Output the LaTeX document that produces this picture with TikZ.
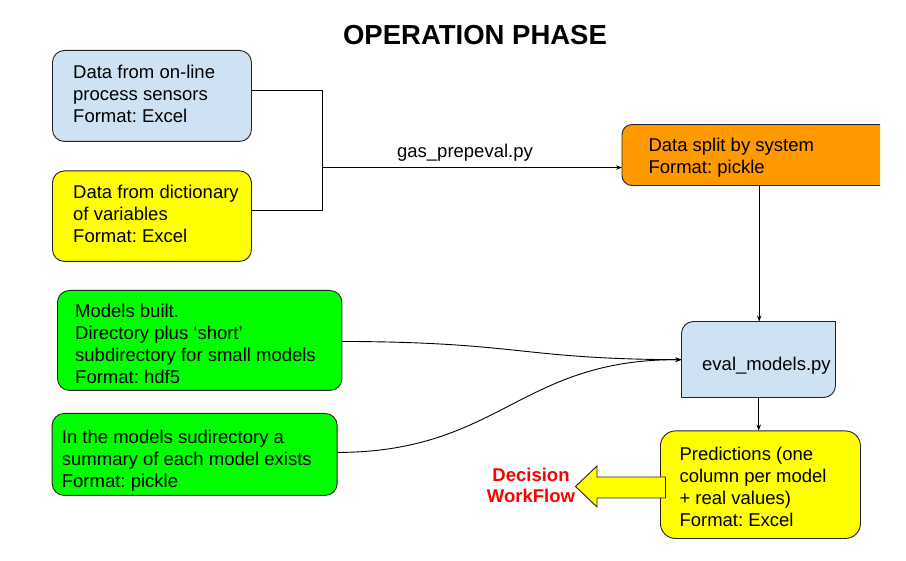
\documentclass[tikz,border=0pt]{standalone}
\usepackage{fontspec}
\setmainfont{Liberation Sans}
\usetikzlibrary{arrows.meta}
\frenchspacing
\definecolor{boxblue}{HTML}{CFE2F3}
\definecolor{boxyellow}{HTML}{FFFF00}
\definecolor{boxorange}{HTML}{FF9900}
\definecolor{boxgreen}{HTML}{00FF00}
\definecolor{wfred}{HTML}{FF0000}
\definecolor{edge}{HTML}{222222}
\begin{document}
\begin{tikzpicture}[x=1pt,y=-1pt,
  box/.style={draw=edge, line width=0.9pt, rounded corners=12pt, inner sep=0pt, anchor=north west},
  ghost/.style={inner sep=0pt, anchor=north west},
  txt/.style={anchor=west, align=left, inner sep=0pt, font=\frenchspacing\fontsize{18.5}{22}\selectfont},
  conn/.style={draw=black, line width=0.9pt},
  arr/.style={conn, -{Stealth[length=6pt,width=4.5pt]}}]
\useasboundingbox (0,0) rectangle (906,561);

% title
\node[font=\bfseries\fontsize{27.5}{30}\selectfont, inner sep=0pt] (title) at (475,35) {OPERATION PHASE};

% left input boxes
\node[box, fill=boxblue, minimum width=199pt, minimum height=91pt] (blue) at (52,50) {};
\node[txt] (blueT) at (73,93.5) {Data from on-line\\process sensors\\Format: Excel};

\node[box, fill=boxyellow, minimum width=199pt, minimum height=90.5pt] (yel) at (52,170.5) {};
\node[txt] (yelT) at (73,213.5) {Data from dictionary\\of variables\\Format: Excel};

\node[box, fill=boxgreen, minimum width=284.5pt, minimum height=100pt] (g1) at (57,290) {};
\node[txt] (g1T) at (75,344) {Models built.\\Directory plus `short'\\subdirectory for small models\\Format: hdf5};

\node[box, fill=boxgreen, minimum width=285pt, minimum height=82pt] (g2) at (51.7,413) {};
\node[txt] (g2T) at (61.7,460.9) {In the models sudirectory a\\summary of each model exists\\Format: pickle};

% orange box (rounded on the left only)
\node[ghost, minimum width=258pt, minimum height=61pt] (orange) at (622,124.5) {};
\filldraw[fill=boxorange, draw=edge, line width=0.9pt]
  (880,124.5) -- (632,124.5) arc[start angle=270, end angle=180, radius=10]
  -- (622,175.5) arc[start angle=180, end angle=90, radius=10] -- (880,185.5);
\node[txt] (orangeT) at (648.3,157.4) {Data split by system\\Format: pickle};

% eval box (rounded top-left and bottom-right)
\node[ghost, minimum width=154pt, minimum height=76pt] (eval) at (681.5,321.5) {};
\filldraw[fill=boxblue, draw=edge, line width=0.9pt]
  (681.5,397.5) -- (681.5,333.5) arc[start angle=180, end angle=270, radius=12]
  -- (835.5,321.5) -- (835.5,385.5) arc[start angle=0, end angle=90, radius=12] -- cycle;
\node[txt] (evalT) at (702,366.2) {eval\_models.py};

% predictions
\node[box, fill=boxyellow, rounded corners=15pt, minimum width=200pt, minimum height=107.5pt] (pred) at (660,430.5) {};
\node[txt] (predT) at (679.3,486.5) {Predictions (one\\column per model\\+ real values)\\Format: Excel};

% block arrow to decision workflow
\filldraw[fill=boxyellow, draw=edge, line width=0.9pt]
  (665.5,477) -- (597,477) -- (597,466) -- (575.5,486.5) -- (597,507) -- (597,498) -- (665.5,498) -- cycle;
\node[align=center, inner sep=0pt, text=wfred, font=\bfseries\fontsize{18.5}{21.7}\selectfont] (wf) at (531,485.5) {Decision\\WorkFlow};

% connectors
\coordinate (j) at (322.5,167.5);
\draw[conn] ([yshift=5pt]blue.east) -| (j);
\draw[conn] ([yshift=6pt]yel.east) -| (j);
\draw[arr] (j) -- (j -| orange.west);
\node[inner sep=0pt, font=\fontsize{18.5}{22}\selectfont] (lbl) at (465,153) {gas\_prepeval.py};

\draw[arr] ([xshift=8pt]orange.south) -- ([xshift=8pt]orange.south |- eval.north);
\draw[arr] (eval.south) -- (eval.south |- pred.north);

\draw[arr] ([yshift=-1pt]g1.east) .. controls (520,342) and (520,359) .. (eval.west);
\draw[arr] ([yshift=2pt]g2.east) .. controls (500,452) and (520,359) .. (eval.west);
\end{tikzpicture}
\end{document}
